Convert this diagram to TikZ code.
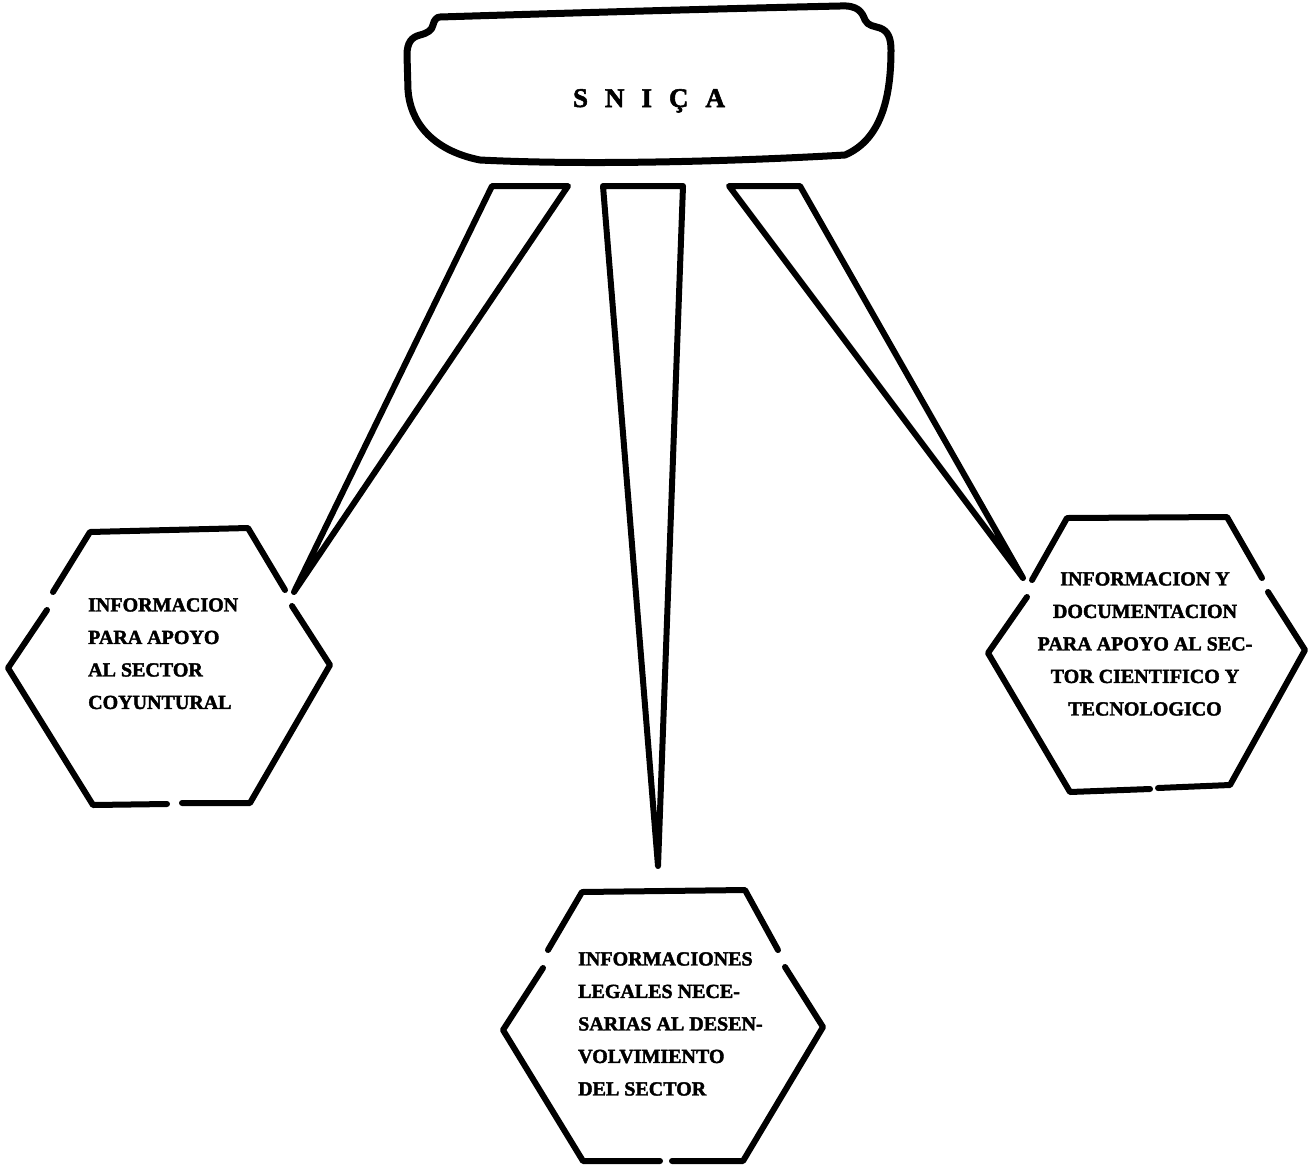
\documentclass[tikz,border=0pt]{standalone}
\usepackage{fontspec}
\setmainfont{Liberation Serif}
\newfontfamily\heavyfont[FakeBold=2]{Liberation Serif Bold}
\tikzset{
  outl/.style={line width=6pt, line cap=round, line join=round},
  topline/.style={line width=7pt, line cap=round, line join=round},
  hextext/.style={font=\fontsize{20}{32.5}\selectfont\heavyfont, inner sep=0pt, align=left},
  titletext/.style={font=\fontsize{27}{30}\selectfont\heavyfont, inner sep=0pt},
}
\begin{document}
\begin{tikzpicture}[x=1pt,y=-1pt]
\useasboundingbox (0,0) rectangle (1311,1165);
% top box
\draw[topline] (440,17) .. controls (600,12) and (750,8) .. (840,6)
  .. controls (858,5) and (862,12) .. (865,20)
  .. controls (868,26) and (874,26) .. (880,28)
  .. controls (888,31) and (891,38) .. (891,50)
  .. controls (891,100) and (880,140) .. (845,155)
  .. controls (760,160) and (600,166) .. (480,160)
  .. controls (430,150) and (410,120) .. (408,90)
  -- (407,55)
  .. controls (407,42) and (412,37) .. (420,35)
  .. controls (428,33) and (432,30) .. (433,25)
  .. controls (434,20) and (437,17) .. (440,17) -- cycle;
\node[titletext, anchor=base] (sn) at (649,107) {S\hspace{17pt}N\hspace{17pt}I\hspace{17pt}Ç\hspace{17pt}A};

% text nodes
\node[hextext, anchor=north west] (hl) at (88,598) {INFORMACION\\PARA APOYO\\AL SECTOR\\COYUNTURAL};
\node[hextext, anchor=north west] (hb) at (578,952) {INFORMACIONES\\LEGALES NECE-\\SARIAS AL DESEN-\\VOLVIMIENTO\\DEL SECTOR};
\node[hextext, align=center, anchor=north] (hr) at (1145,572) {INFORMACION Y\\DOCUMENTACION\\PARA APOYO AL SEC-\\TOR CIENTIFICO Y\\TECNOLOGICO};

% wedge connectors
\coordinate (wl1) at (492,186);
\coordinate (wl2) at (568,186);
\coordinate (wlt) at (294,592);
\coordinate (wm1) at (603,186);
\coordinate (wm2) at (683,186);
\coordinate (wmt) at (658,866);
\coordinate (wr1) at (729,186);
\coordinate (wr2) at (800,186);
\coordinate (wrt) at (1023,578);
\draw[outl] (wl1) -- (wl2) -- (wlt) -- cycle;
\draw[outl] (wm1) -- (wm2) -- (wmt) -- cycle;
\draw[outl] (wr1) -- (wr2) -- (wrt) -- cycle;

% left hexagon
\draw[outl] (53,592) -- (90,532) -- (248,528) -- (285,590);
\draw[outl] (292,606) -- (330,665) -- (250,803) -- (182,803);
\draw[outl] (167,804) -- (93,805) -- (8,668) -- (47,610);

% right hexagon
\draw[outl] (1032,580) -- (1067,518) -- (1227,517) -- (1262,578);
\draw[outl] (1268,592) -- (1305,650) -- (1230,785) -- (1158,788);
\draw[outl] (1150,789) -- (1070,792) -- (988,653) -- (1027,597);

% bottom hexagon
\draw[outl] (548,950) -- (582,892) -- (745,890) -- (778,950);
\draw[outl] (785,967) -- (823,1027) -- (743,1161) -- (672,1161);
\draw[outl] (660,1161) -- (583,1161) -- (503,1030) -- (543,968);
\end{tikzpicture}
\end{document}
